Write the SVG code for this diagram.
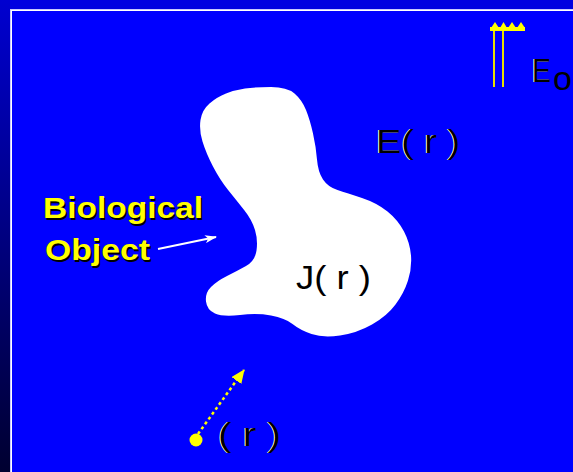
<svg xmlns="http://www.w3.org/2000/svg" width="573" height="472" viewBox="0 0 573 472">
<defs>
<linearGradient id="bg" x1="0" y1="0" x2="0" y2="1">
<stop offset="0" stop-color="#0000d0"/>
<stop offset="1" stop-color="#000030"/>
</linearGradient>
<marker id="wa" viewBox="0 0 12 8" refX="11" refY="4" markerWidth="12" markerHeight="8" markerUnits="userSpaceOnUse" orient="auto">
<path d="M0,0 L12,4 L0,8 L3,4 Z" fill="#fff"/>
</marker>
<marker id="ya" viewBox="0 0 14 12" refX="13" refY="6" markerWidth="14" markerHeight="12" markerUnits="userSpaceOnUse" orient="auto">
<path d="M0,0 L14,6 L0,12 Z" fill="#ffff00"/>
</marker>
</defs>
<style>
.lbl{font-family:"Liberation Sans",Arial,sans-serif;font-size:34px}
.hl{fill:#fff}
.bk{fill:#000}
.bio{font-family:"Liberation Sans",Arial,sans-serif;font-weight:bold;font-size:29px}
</style>
<rect x="0" y="0" width="573" height="472" fill="url(#bg)"/>
<rect x="10" y="0" width="563" height="9" fill="#0000e0"/>
<rect x="10" y="9" width="563" height="463" fill="#c8c8ff"/>
<rect x="11" y="10" width="562" height="462" fill="#ffffff"/>
<rect x="12" y="11" width="561" height="461" fill="#0000ff"/>

<g id="object">
<path d="M226,93.5 Q235,90 245,88.5 Q255,87 271,87 Q287,87 294.5,93.5 Q302,100 306,110 Q310,120 313,133.5 Q316,147 317,159.5 Q318,172 323,179.5 Q328,187 337.5,190 Q347,193 362,198 Q377,203 387.5,211.5 Q398,220 404,231.5 Q410,243 411,255.5 Q412,268 408,280.5 Q404,293 395.5,304.5 Q387,316 372,324.5 Q357,333 340,335.5 Q323,338 311.5,334 Q300,330 292.5,324 Q285,318 271,315.5 Q257,313 240,315 Q223,317 215,313.5 Q207,310 206,301.5 Q205,293 211,287 Q217,281 227,276 Q237,271 246,266 Q255,261 256.5,250.5 Q258,240 255,230 Q252,220 244.5,210.5 Q237,201 228.5,190.5 Q220,180 213,166.5 Q206,153 202.5,141.5 Q199,130 200.5,120 Q202,110 209.5,103.5 Q217,97 226,93.5 Z" fill="#fff"/>
<text class="lbl bk" x="296" y="289" font-size="32" textLength="75" lengthAdjust="spacingAndGlyphs">J( r )</text>
</g>

<g id="field-E0">
<line x1="494" y1="29" x2="494" y2="87" stroke="#e8e000" stroke-width="2"/>
<line x1="503" y1="29" x2="503" y2="87" stroke="#e8e000" stroke-width="2"/>
<rect x="490" y="27" width="35" height="4" fill="#ffff00"/>
<path d="M491,28 L495,22 L499,28 Z M500,28 L503.5,22 L507,28 Z M508,28 L512,22 L516,28 Z M517,28 L521,22 L525,28 Z" fill="#ffff00"/>
<text class="lbl hl" x="531" y="82" font-size="34" textLength="19" lengthAdjust="spacingAndGlyphs">E</text>
<text class="lbl bk" x="532" y="82" font-size="34" textLength="19" lengthAdjust="spacingAndGlyphs">E</text>
<text class="lbl bk" x="553" y="90" font-size="14">o</text>
</g>

<g id="field-Er">
<text class="lbl hl" x="375" y="153" textLength="84" lengthAdjust="spacingAndGlyphs">E( r )</text>
<text class="lbl bk" x="376" y="153" textLength="84" lengthAdjust="spacingAndGlyphs">E( r )</text>
</g>

<g id="label-bio">
<text class="bio" x="44.5" y="219.5" fill="#000" textLength="160" lengthAdjust="spacingAndGlyphs">Biological</text>
<text class="bio" x="43" y="218" fill="#ffff00" textLength="160" lengthAdjust="spacingAndGlyphs">Biological</text>
<text class="bio" x="46.5" y="261.5" fill="#000" textLength="105" lengthAdjust="spacingAndGlyphs">Object</text>
<text class="bio" x="45" y="260" fill="#ffff00" textLength="105" lengthAdjust="spacingAndGlyphs">Object</text>
</g>

<g id="source">
<circle cx="196" cy="440" r="6.5" fill="#ffff00"/>
<text class="lbl hl" x="217" y="446" font-size="36" textLength="63" lengthAdjust="spacingAndGlyphs">( r )</text>
<text class="lbl bk" x="218" y="446" font-size="36" textLength="63" lengthAdjust="spacingAndGlyphs">( r )</text>
</g>

<g id="connectors">
<line x1="158" y1="249" x2="216" y2="237" stroke="#fff" stroke-width="2" marker-end="url(#wa)"/>
<line x1="198" y1="434" x2="244" y2="370" stroke="#ffff00" stroke-width="2.5" stroke-dasharray="3,3" marker-end="url(#ya)"/>
</g>
</svg>
